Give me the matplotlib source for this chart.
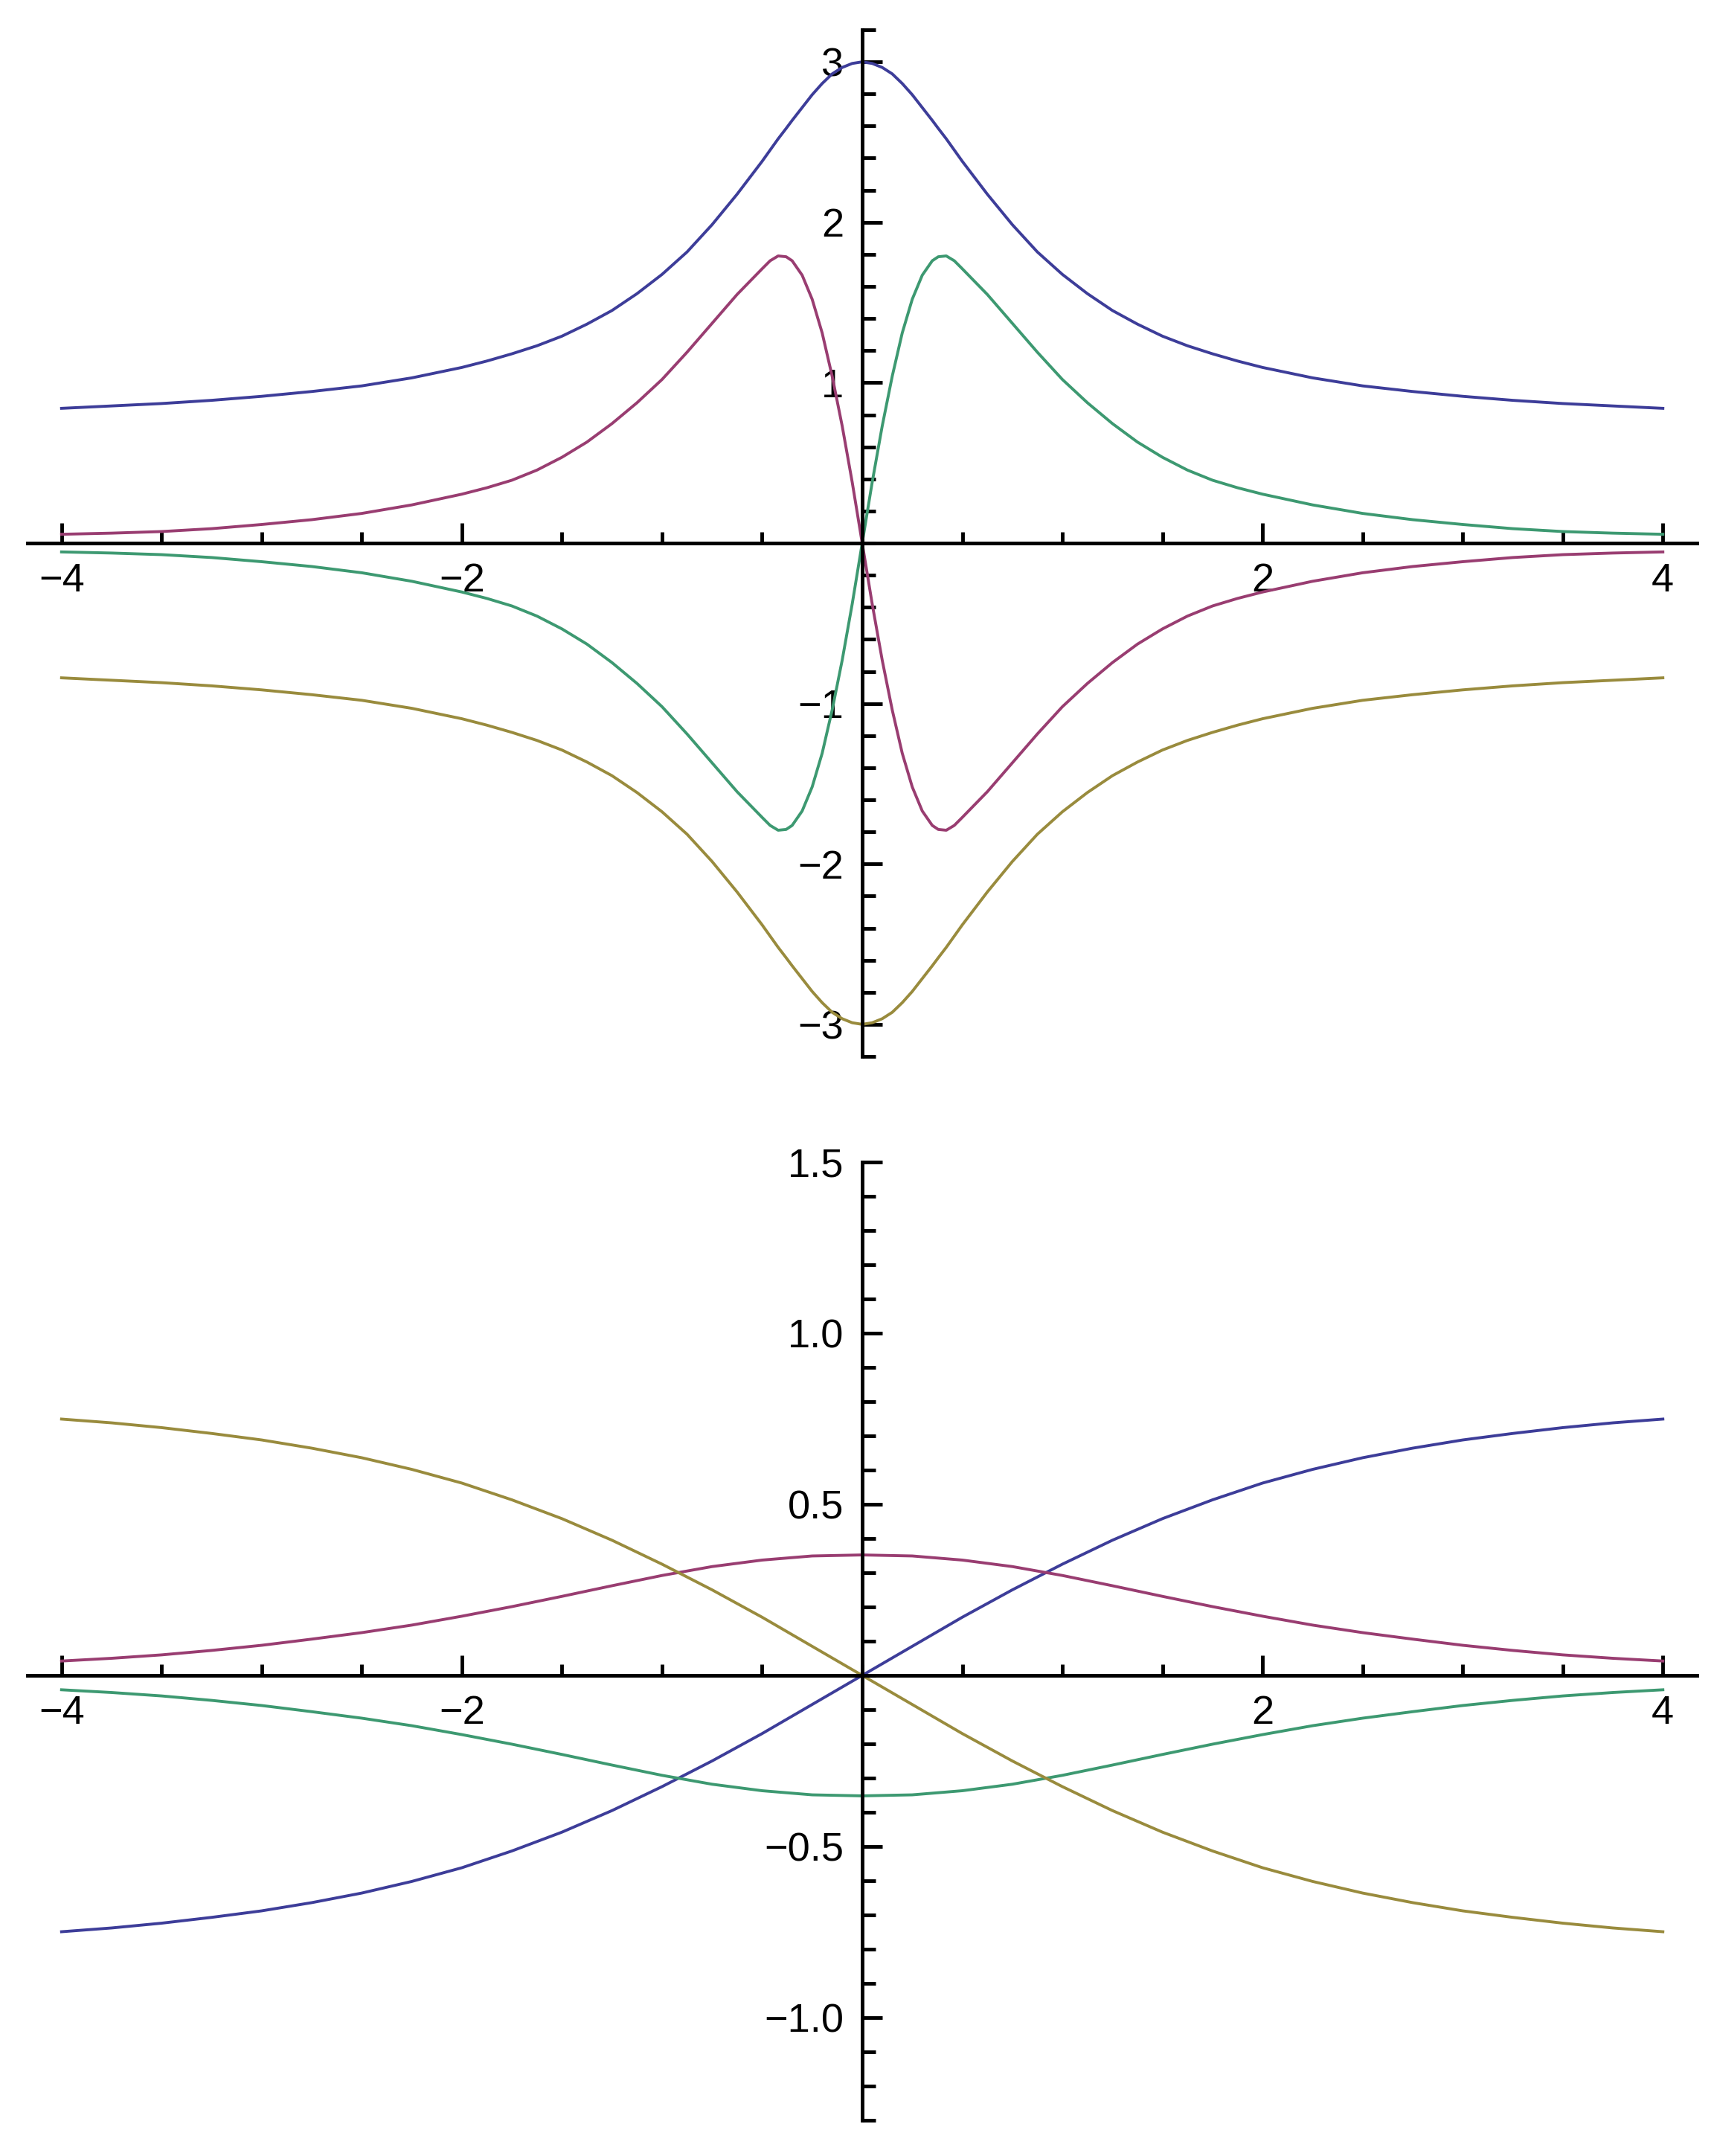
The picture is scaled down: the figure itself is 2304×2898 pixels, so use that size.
import matplotlib
matplotlib.use("Agg")
import matplotlib.pyplot as plt
from matplotlib.ticker import FixedLocator
import numpy as np

plt.rcParams['font.family'] = ['Liberation Sans', 'DejaVu Sans']

# ---- top panel: values ----
x_top = [-4, -3.75, -3.5, -3.25, -3, -2.75, -2.5, -2.25, -2, -1.875, -1.75, -1.625,
         -1.5, -1.375, -1.25, -1.125, -1, -0.875, -0.75, -0.625, -0.5, -0.46, -0.42,
         -0.38, -0.35, -0.3, -0.25, -0.2, -0.15, -0.1, -0.05, 0,
         0.05, 0.1, 0.15, 0.2, 0.25, 0.3, 0.35, 0.38, 0.42, 0.46, 0.5, 0.625, 0.75,
         0.875, 1, 1.125, 1.25, 1.375, 1.5, 1.625, 1.75, 1.875, 2, 2.25, 2.5, 2.75,
         3, 3.25, 3.5, 3.75, 4]

blue_top = [0.84, 0.855, 0.87, 0.89, 0.915, 0.945, 0.98, 1.03, 1.095, 1.135, 1.18, 1.23,
            1.29, 1.365, 1.45, 1.555, 1.675, 1.815, 1.985, 2.175, 2.38, 2.45, 2.52,
            2.585, 2.635, 2.715, 2.795, 2.865, 2.925, 2.965, 2.99, 3.0,
            2.99, 2.965, 2.925, 2.865, 2.795, 2.715, 2.635, 2.585, 2.52, 2.45, 2.38, 2.175, 1.985,
            1.815, 1.675, 1.555, 1.45, 1.365, 1.29, 1.23, 1.18, 1.135, 1.095, 1.03, 0.98, 0.945,
            0.915, 0.89, 0.87, 0.855, 0.84]

red_top = [0.055, 0.062, 0.072, 0.090, 0.116, 0.146, 0.185, 0.238, 0.305, 0.345, 0.392, 0.455,
           0.535, 0.630, 0.745, 0.875, 1.02, 1.19, 1.37, 1.55, 1.71, 1.76, 1.79,
           1.785, 1.76, 1.67, 1.52, 1.31, 1.04, 0.73, 0.38, 0.0,
           -0.38, -0.73, -1.04, -1.31, -1.52, -1.67, -1.76, -1.785, -1.79, -1.76, -1.71, -1.55, -1.37,
           -1.19, -1.02, -0.875, -0.745, -0.630, -0.535, -0.455, -0.392, -0.345, -0.305, -0.238, -0.185, -0.146,
           -0.116, -0.090, -0.072, -0.062, -0.055]

green_top = [-0.055, -0.062, -0.072, -0.090, -0.116, -0.146, -0.185, -0.238, -0.305, -0.345, -0.392, -0.455,
             -0.535, -0.630, -0.745, -0.875, -1.02, -1.19, -1.37, -1.55, -1.71, -1.76, -1.79,
             -1.785, -1.76, -1.67, -1.52, -1.31, -1.04, -0.73, -0.38, 0.0,
             0.38, 0.73, 1.04, 1.31, 1.52, 1.67, 1.76, 1.785, 1.79, 1.76, 1.71, 1.55, 1.37,
             1.19, 1.02, 0.875, 0.745, 0.630, 0.535, 0.455, 0.392, 0.345, 0.305, 0.238, 0.185, 0.146,
             0.116, 0.090, 0.072, 0.062, 0.055]

yellow_top = [-0.84, -0.855, -0.87, -0.89, -0.915, -0.945, -0.98, -1.03, -1.095, -1.135, -1.18, -1.23,
              -1.29, -1.365, -1.45, -1.555, -1.675, -1.815, -1.985, -2.175, -2.38, -2.45, -2.52,
              -2.585, -2.635, -2.715, -2.795, -2.865, -2.925, -2.965, -2.99, -3.0,
              -2.99, -2.965, -2.925, -2.865, -2.795, -2.715, -2.635, -2.585, -2.52, -2.45, -2.38, -2.175, -1.985,
              -1.815, -1.675, -1.555, -1.45, -1.365, -1.29, -1.23, -1.18, -1.135, -1.095, -1.03, -0.98, -0.945,
              -0.915, -0.89, -0.87, -0.855, -0.84]

# ---- bottom panel ----
x_bot = [-4, -3.75, -3.5, -3.25, -3, -2.75, -2.5, -2.25, -2, -1.75, -1.5, -1.25, -1,
         -0.75, -0.5, -0.25, 0, 0.25, 0.5, 0.75, 1, 1.25, 1.5, 1.75, 2, 2.25, 2.5,
         2.75, 3, 3.25, 3.5, 3.75, 4]

blue_bot = [-0.749, -0.738, -0.724, -0.707, -0.688, -0.664, -0.636, -0.602, -0.562, -0.513,
            -0.458, -0.395, -0.325, -0.250, -0.170, -0.085, 0.0, 0.085, 0.170, 0.250, 0.325,
            0.395, 0.458, 0.513, 0.562, 0.602, 0.636, 0.664, 0.688, 0.707, 0.724, 0.738, 0.749]

red_bot = [0.042, 0.050, 0.060, 0.073, 0.088, 0.106, 0.125, 0.147, 0.173, 0.201, 0.231,
           0.262, 0.292, 0.318, 0.337, 0.349, 0.352, 0.349, 0.337, 0.318, 0.292, 0.262,
           0.231, 0.201, 0.173, 0.147, 0.125, 0.106, 0.088, 0.073, 0.060, 0.050, 0.042]

green_bot = [-0.042, -0.050, -0.060, -0.073, -0.088, -0.106, -0.125, -0.147, -0.173, -0.201, -0.231,
             -0.262, -0.292, -0.318, -0.337, -0.349, -0.352, -0.349, -0.337, -0.318, -0.292, -0.262,
             -0.231, -0.201, -0.173, -0.147, -0.125, -0.106, -0.088, -0.073, -0.060, -0.050, -0.042]

yellow_bot = [0.749, 0.738, 0.724, 0.707, 0.688, 0.664, 0.636, 0.602, 0.562, 0.513,
              0.458, 0.395, 0.325, 0.250, 0.170, 0.085, 0.0, -0.085, -0.170, -0.250, -0.325,
              -0.395, -0.458, -0.513, -0.562, -0.602, -0.636, -0.664, -0.688, -0.707, -0.724, -0.738, -0.749]

top_yticks = [-3, -2, -1, 1, 2, 3]
top_ylabels = ["\u22123", "\u22122", "\u22121", "1", "2", "3"]
bot_yticks = [-1.0, -0.5, 0.5, 1.0, 1.5]
bot_ylabels = ["\u22121.0", "\u22120.5", "0.5", "1.0", "1.5"]
xticks = [-4, -2, 2, 4]
xlabels = ["\u22124", "\u22122", "2", "4"]

colors = [(0.24, 0.24, 0.6), (0.6, 0.24, 0.4428), (0.24, 0.6, 0.4428), (0.6, 0.547, 0.24)]


def style_axes(ax, ylim, yticks, ylabels, yminor):
    ax.set_xlim(-4.17, 4.17)
    ax.set_ylim(*ylim)
    for s in ["top", "right"]:
        ax.spines[s].set_visible(False)
    for s in ["left", "bottom"]:
        ax.spines[s].set_position(("data", 0))
        ax.spines[s].set_linewidth(3.5)
    ax.xaxis.set_major_locator(FixedLocator(xticks))
    ax.xaxis.set_minor_locator(FixedLocator(np.arange(-8, 9) * 0.5))
    ax.set_xticklabels(xlabels)
    ax.yaxis.set_major_locator(FixedLocator(yticks))
    ax.yaxis.set_minor_locator(FixedLocator(yminor))
    ax.set_yticklabels(ylabels)
    ax.tick_params(axis="both", which="both", direction="in", width=3.5, labelsize=39)
    ax.tick_params(axis="x", which="major", length=19.5, pad=19)
    ax.tick_params(axis="x", which="minor", length=11)
    ax.tick_params(axis="y", which="major", length=19.5, pad=18)
    ax.tick_params(axis="y", which="minor", length=13)
    ax.patch.set_alpha(0)


fig = plt.figure(figsize=(23.04, 28.98), dpi=100)

ax1 = fig.add_axes([37 / 2304, 1 - 1420 / 2898, 2244 / 2304, 1380 / 2898])
for ys, c in zip([blue_top, red_top, green_top, yellow_top], colors):
    ax1.plot(x_top, ys, color=c, lw=2.8, solid_joinstyle="round")
style_axes(ax1, (-3.2, 3.2), top_yticks, top_ylabels, np.arange(-16, 17) * 0.2)

ax2 = fig.add_axes([37 / 2304, 1 - 2850 / 2898, 2244 / 2304, 1288 / 2898])
for ys, c in zip([blue_bot, red_bot, green_bot, yellow_bot], colors):
    ax2.plot(x_bot, ys, color=c, lw=2.8, solid_joinstyle="round")
style_axes(ax2, (-1.3, 1.5), bot_yticks, bot_ylabels, np.arange(-13, 16) * 0.1)

fig.savefig("out.png", dpi=100, facecolor="white")
